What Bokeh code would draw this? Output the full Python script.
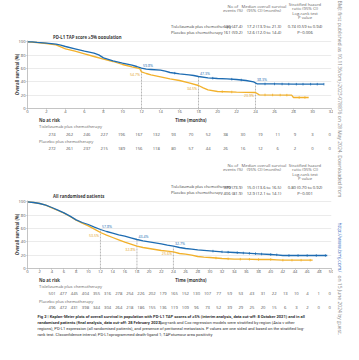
import numpy as np
from bokeh.plotting import figure
from bokeh.models import Range1d, Label, LabelSet, ColumnDataSource, Legend, LegendItem
from bokeh.layouts import column, row
from bokeh.embed import file_html
from bokeh.resources import INLINE
from bokeh.core.properties import value

FONT = "Open Sans"
CAPFONT = "Roboto"
BLUE = "#1e6cb2"
GOLD = "#f2b12c"
GOLD_TXT = "#e3a21c"
TXT = "#3a3a3a"
LIGHT = "#666666"
FS = "4.2px"

series_names = ["Tislelizumab plus chemotherapy", "Placebo plus chemotherapy"]
hdr_events = ["No of", "events (%)"]
hdr_median = ["Median overall survival", "(95% CI) (months)"]
hdr_hr = ["Stratified hazard", "ratio (95% CI)", "Log-rank test", "P value"]
x_title = "Time (months)"
y_title = "Overall survival (%)"

# ---------------- Panel A: PD-L1 TAP >=5% ----------------
a_title = "PD-L1 TAP score \u22655% population"
a_tis_t = [0, 0.5, 1, 2, 3, 3.5, 4, 5, 6, 6.5, 7, 7.5, 8, 9, 10, 11, 11.5, 12, 12.5, 13,
           14, 14.5, 15, 16, 17, 17.5, 18, 19, 20, 21, 22, 23, 23.8, 24.2, 26, 28, 31.2]
a_tis_s = [100, 100, 99.3, 98, 96.5, 95, 93, 89.5, 86, 84.5, 83, 80.5, 76, 71.5, 68, 65, 63, 60.5, 59, 58.5,
           57.5, 56, 54, 52, 50.5, 49.5, 48, 46, 45, 44.5, 43.5, 42, 40, 36.8, 36.8, 36.5, 36.5]
a_pla_t = [0, 1, 2, 3, 3.5, 4, 5, 6, 7, 8, 9, 10, 11, 11.8, 12, 12.5, 13, 14, 15, 16,
           17, 18, 18.5, 19, 20, 22, 24, 24.4, 27.8, 28, 29.6]
a_pla_s = [100, 99, 97.5, 95.5, 92.5, 89.5, 86, 82, 78, 74, 70.5, 66, 62.5, 60, 55, 52.5, 50.5, 47.5, 44.5, 42,
           38.5, 34.5, 31, 28, 25.5, 24.5, 24, 20.5, 20, 16.5, 16.5]
a_cens_tis = [15.5, 19.5, 21.5, 22.5, 25, 26, 26.8, 27.5, 28.3, 29, 29.8, 30.5, 31.2]
a_cens_pla = [20.5, 21.5, 25, 25.8, 26.6, 27.3, 28.6, 29.2]
a_risk_t = list(range(0, 33, 2))
a_risk_tis = [274, 262, 246, 227, 196, 167, 132, 93, 70, 52, 38, 30, 19, 11, 9, 3, 0]
a_risk_pla = [272, 261, 237, 215, 189, 156, 118, 80, 57, 44, 26, 16, 12, 6, 2, 0, 0]
a_land_t = [12, 18, 24]
a_land_tis = [59.8, 47.3, 38.3]
a_land_pla = [54.7, 34.5, 23.9]
a_events = ["130 (47.4)", "161 (59.2)"]
a_median = ["17.2 (13.9 to 21.3)", "12.6 (12.0 to 14.4)"]
a_hr = ["0.74 (0.59 to 0.94)", "P=0.006"]

# ---------------- Panel B: all randomised ----------------
b_title = "All randomised patients"
b_tis_t = [0, 1, 2, 3, 4, 5, 6, 7, 8, 9, 10, 11, 12, 13, 14, 15, 16, 17, 18, 19,
           20, 21, 22, 23, 24, 25, 26, 27, 28, 30, 32, 34, 36, 38, 40, 41, 42, 45, 49.3]
b_tis_s = [100, 99, 97.5, 95, 91.5, 87.5, 83.5, 78.5, 73, 69, 66, 62, 58.5, 55.5, 53, 50.5, 48.5, 46, 43.5, 41.5,
           40, 38.5, 37, 35, 33.5, 31.5, 30, 29, 28, 26.5, 25, 24, 23, 22, 21, 20.5, 19.5, 19.5, 19.5]
b_pla_t = [0, 1, 2, 3, 4, 5, 6, 7, 8, 9, 10, 11, 12, 13, 14, 15, 16, 17, 18, 19,
           20, 21, 22, 23, 24, 25, 26, 27, 28, 29, 30, 32, 34, 36, 38, 40, 41, 42, 44, 46.9]
b_pla_s = [100, 99, 97.5, 95, 91, 87, 83, 78, 72.5, 68, 64, 59, 54, 50, 46.5, 43, 39.5, 36.5, 33.5, 31.5,
           30, 28.5, 27, 26, 25, 22.5, 21.5, 20, 18, 17, 16.5, 15, 14, 14, 13.5, 13.5, 13, 12.5, 12.5, 12.5]
b_cens_tis = [30.5, 32, 33, 34.5, 35.5, 36.5, 37.5, 38.5, 40, 41, 43, 44.5, 46, 47.5, 49]
b_cens_pla = [31, 33, 35, 36.5, 38, 40, 42, 43.5, 45, 46.5]
b_risk_t = list(range(0, 51, 2))
b_risk_tis = [501, 477, 445, 404, 355, 316, 278, 254, 226, 202, 179, 165, 152, 130, 107, 77, 59, 53, 43, 31,
              22, 13, 10, 4, 1, 0]
b_risk_pla = [496, 472, 431, 398, 344, 304, 264, 218, 186, 155, 136, 119, 109, 96, 73, 52, 39, 29, 25, 20,
              15, 6, 3, 2, 0, 0]
b_land_t = [12, 18, 24]
b_land_tis = [57.8, 43.4, 32.7]
b_land_pla = [53.5, 32.8, 25.6]
b_events = ["370 (73.9)", "406 (81.9)"]
b_median = ["15.0 (13.6 to 16.5)", "12.9 (12.1 to 14.1)"]
b_hr = ["0.80 (0.70 to 0.92)", "P=0.001"]

caption = [
    ("Fig 2 | Kaplan-Meier plots of overall survival in population with PD-L1 TAP scores of \u22655% (interim analysis, data cut-off: 8 October 2021) and in all", "bold"),
    ("randomised patients (final analysis, data cut-off: 28 February 2023).", "bold"),
    ("Log-rank and Cox regression models were stratified by region (Asia v other", "normal"),
    ("regions), PD-L1 expression (all randomised patients), and presence of peritoneal metastasis. P values are one sided and based on the stratified log-", "normal"),
    ("rank test. CI=confidence interval; PD-L1=programmed death-ligand 1; TAP=tumour area positivity", "normal"),
]
side_parts = ["BMJ: first published as 10.1136/bmj-2023-078876 on 28 May 2024. Downloaded from",
              "http://www.bmj.com/", "on 15 June 2024 by guest."]

W = 333          # width of the main column (page x 8..341)
FRAME_L = 27     # frame left inside the column
FRAME_R = 331    # frame right inside the column
FRAME_H = 68


def blank_fig(h, xr, w=W):
    p = figure(width=w, height=h, x_range=Range1d(*xr), y_range=Range1d(h, 0),
               output_backend="svg", toolbar_location=None, title=None,
               x_axis_type=None, y_axis_type=None, min_border=0,
               min_border_left=0, min_border_right=0, min_border_top=0, min_border_bottom=0)
    p.outline_line_color = None
    p.background_fill_color = "white"
    p.border_fill_color = "white"
    return p


def lab(p, x, y, text, size=FS, color=TXT, align="left", style="normal", font=FONT, angle=0.0):
    p.add_layout(Label(x=x, y=y, text=text, text_font=font, text_font_size=size, text_color=color,
                       text_align=align, text_baseline="middle", text_font_style=style, angle=angle))


def header_fig(h, top, d):
    """Band above a panel: summary table, legend and panel title (page coords)."""
    p = blank_fig(h, (0, W))
    X = lambda rx: rx - 8
    Y = lambda ry: ry - top
    r_t = p.line([], [], line_color=BLUE, line_width=1.3)
    r_p = p.line([], [], line_color=GOLD, line_width=1.3)
    r0 = d["row_y"]
    leg = Legend(items=[LegendItem(label=series_names[0], renderers=[r_t]),
                        LegendItem(label=series_names[1], renderers=[r_p])],
                 location=(X(142), top + h - (r0 + 9)), orientation="vertical",
                 glyph_width=8, glyph_height=6, label_height=6, label_standoff=2, spacing=0,
                 padding=0, margin=0, border_line_alpha=0, background_fill_alpha=0,
                 label_text_font=FONT, label_text_font_size="4.0px", label_text_color=TXT)
    p.add_layout(leg)
    hy = d["hdr_y"]
    for i, t in enumerate(hdr_events):
        lab(p, X(233), Y(hy[0] + 4.5 * i), t, align="center", color=LIGHT)
    for i, t in enumerate(hdr_median):
        lab(p, X(267), Y(hy[0] + 4.5 * i), t, align="center", color=LIGHT)
    for i, t in enumerate(hdr_hr):
        lab(p, X(312), Y(hy[1] + 4.5 * i), t, align="center", color=LIGHT)
    for i, ry in enumerate((r0, r0 + 6)):
        lab(p, X(233), Y(ry), d["events"][i], align="center")
        lab(p, X(267), Y(ry), d["median"][i], align="center")
        lab(p, X(312), Y(ry), d["hr"][i], align="center")
    lab(p, X(36), Y(d["title_y"]), d["title"], style="bold", size="4.3px")
    return p


def plot_fig(h, top, xmax, d):
    p = figure(width=W, height=h, x_range=Range1d(0, xmax), y_range=Range1d(0, 102),
               output_backend="svg", toolbar_location=None, title=None,
               min_border_left=FRAME_L, min_border_right=W - FRAME_R, min_border_top=top,
               min_border_bottom=h - top - FRAME_H)
    p.outline_line_color = None
    p.background_fill_color = "white"
    p.border_fill_color = "white"
    p.xgrid.grid_line_color = None
    p.ygrid.grid_line_color = "#e6e6e6"
    p.ygrid.grid_line_width = 0.8
    p.xaxis.ticker = list(range(0, xmax + 1, 2))
    p.yaxis.ticker = [0, 20, 40, 60, 80, 100]
    for ax in (p.xaxis[0], p.yaxis[0]):
        ax.axis_line_color = "#b5b5b5"
        ax.axis_line_width = 0.8
        ax.major_tick_line_color = "#b5b5b5"
        ax.major_tick_in = 0
        ax.major_tick_out = 1
        ax.minor_tick_line_color = None
        ax.major_label_text_font = FONT
        ax.major_label_text_font_size = "4.1px"
        ax.major_label_text_color = "#555555"
        ax.major_label_standoff = 1
        ax.axis_label_text_font = FONT
        ax.axis_label_text_font_size = "4.3px"
        ax.axis_label_text_font_style = "bold"
        ax.axis_label_text_color = TXT
    p.xaxis.major_label_standoff = 0
    p.yaxis.axis_label = y_title
    p.yaxis.axis_label_standoff = -5

    p.segment(x0=d["land_t"], y0=[0] * len(d["land_t"]), x1=d["land_t"], y1=d["land_tis"],
              line_color="#9a9a9a", line_dash="2 1", line_width=0.7)
    p.line(d["pla_t"], d["pla_s"], line_color=GOLD, line_width=1.3)
    p.line(d["tis_t"], d["tis_s"], line_color=BLUE, line_width=1.3)
    p.scatter(d["cens_pla"], np.interp(d["cens_pla"], d["pla_t"], d["pla_s"]), marker="dash",
              angle=np.pi / 2, size=2.5, line_color=GOLD, line_width=0.8)
    p.scatter(d["cens_tis"], np.interp(d["cens_tis"], d["tis_t"], d["tis_s"]), marker="dash",
              angle=np.pi / 2, size=2.5, line_color=BLUE, line_width=0.8)

    src_t = ColumnDataSource(dict(x=d["land_t"], y=d["land_tis"], text=[f"{v:.1f}%" for v in d["land_tis"]]))
    src_p = ColumnDataSource(dict(x=d["land_t"], y=d["land_pla"], text=[f"{v:.1f}%" for v in d["land_pla"]]))
    p.add_layout(LabelSet(x="x", y="y", text="text", source=src_t, x_offset=1.5, y_offset=3.5,
                          text_align="left", text_baseline="middle", text_font=value(FONT),
                          text_font_size=value("3.6px"), text_color=value(BLUE)))
    p.add_layout(LabelSet(x="x", y="y", text="text", source=src_p, x_offset=-1.5, y_offset=-2.5,
                          text_align="right", text_baseline="middle", text_font=value(FONT),
                          text_font_size=value("3.6px"), text_color=value(GOLD_TXT)))
    return p


def risk_fig(h, top, xmax, d, rows_y):
    """Axis title + number-at-risk band; x uses the same time scale as the panel above."""
    per_px = xmax / (FRAME_R - FRAME_L)
    xr = (-FRAME_L * per_px, (W - FRAME_L) * per_px)
    p = blank_fig(h, xr)
    X = lambda rx: xr[0] + (rx - 8) * per_px
    Y = lambda ry: ry - top
    lab(p, xmax / 2, Y(rows_y[0] - 0.3), x_title, style="bold", size="4.3px", align="center")
    lab(p, X(20.7), Y(rows_y[0]), "No at risk", style="bold", size="4.3px")
    lab(p, X(20.7), Y(rows_y[1]), series_names[0], color=LIGHT)
    lab(p, X(20.7), Y(rows_y[3]), series_names[1], color=LIGHT)
    for ry, vals in ((rows_y[2], d["risk_tis"]), (rows_y[4], d["risk_pla"])):
        src = ColumnDataSource(dict(x=d["risk_t"], y=[Y(ry)] * len(vals), text=[str(v) for v in vals]))
        p.text(x="x", y="y", text="text", source=src, text_align="center", text_baseline="middle",
               text_font=value(FONT), text_font_size=value(FS), text_color="#555555")
    return p, X, Y


A = dict(title=a_title, tis_t=a_tis_t, tis_s=a_tis_s, pla_t=a_pla_t, pla_s=a_pla_s,
         cens_tis=a_cens_tis, cens_pla=a_cens_pla, risk_t=a_risk_t, risk_tis=a_risk_tis,
         risk_pla=a_risk_pla, land_t=a_land_t, land_tis=a_land_tis, land_pla=a_land_pla,
         events=a_events, median=a_median, hr=a_hr, hdr_y=(13.8, 11.5), row_y=34.3, title_y=44.3)
B = dict(title=b_title, tis_t=b_tis_t, tis_s=b_tis_s, pla_t=b_pla_t, pla_s=b_pla_s,
         cens_tis=b_cens_tis, cens_pla=b_cens_pla, risk_t=b_risk_t, risk_tis=b_risk_tis,
         risk_pla=b_risk_pla, land_t=b_land_t, land_tis=b_land_tis, land_pla=b_land_pla,
         events=b_events, median=b_median, hr=b_hr, hdr_y=(172.5, 172.5), row_y=194.6, title_y=203.5)

# bands (page y): T1 8-47, P1 47-125, R1 125-165, T2 165-206, P2 206-285, R2 285-352
t1 = header_fig(39, 8, A)
p1 = plot_fig(78, 1, 32, A)
r1, _, _ = risk_fig(40, 125, 32, A, (127.5, 134.2, 141.5, 149.2, 155.5))
t2 = header_fig(41, 165, B)
p2 = plot_fig(79, 2, 50, B)
r2, X2, Y2 = risk_fig(67, 285, 50, B, (287.3, 294.0, 301.3, 309.0, 314.7))

cy = [324.0, 330.0, 330.0, 336.0, 341.5]
cx = [19, 19, 153, 19, 19]
for (text, style), x, y in zip(caption, cx, cy):
    lab(r2, X2(x), Y2(y), text, size="4.1px", style=style, font=CAPFONT, color="#333333")

# right-hand strip with the vertical journal notice
side = blank_fig(344, (0, 10), w=10)
side_y = [8, 230, 283]
side_col = ["#8a8a8a", "#3d6fc2", "#8a8a8a"]
for t, y, c in zip(side_parts, side_y, side_col):
    lab(side, 6.5, y - 8, t, size="5.0px", color=c, angle=-np.pi / 2)

layout = row(column(t1, p1, r1, t2, p2, r2, spacing=0), side, spacing=0)
open("out.html", "w").write(file_html(layout, INLINE))
